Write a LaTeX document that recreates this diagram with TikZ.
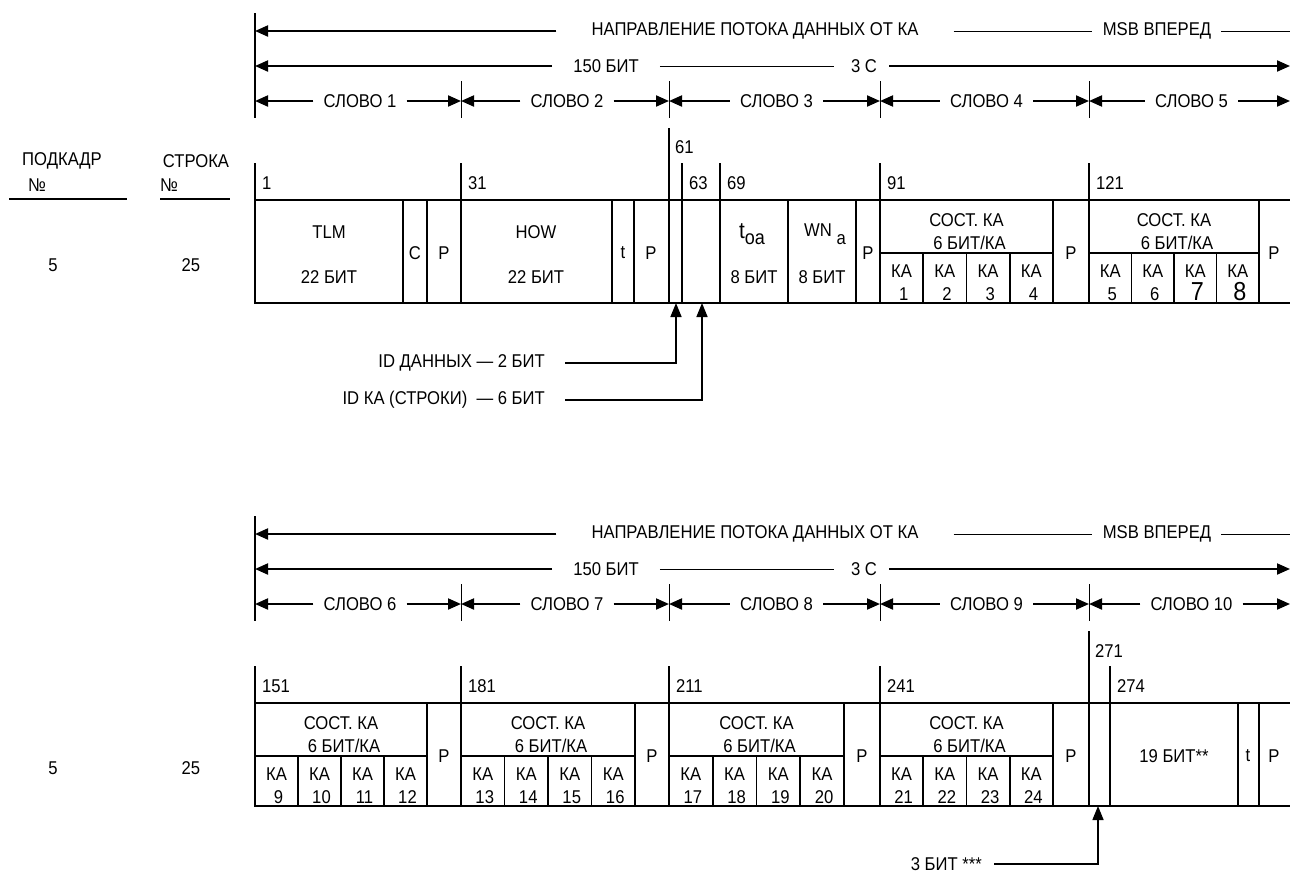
\documentclass[tikz,border=0pt]{standalone}
\usepackage{fontspec}
\setmainfont{Liberation Sans}[FakeStretch=0.9]
\usetikzlibrary{arrows.meta,positioning,calc}

\begin{document}
\begin{tikzpicture}[x=1pt, y=-1pt,
    every node/.style={font=\fontsize{18.5}{20}\selectfont, inner sep=0pt},
    thickarr/.style={line width=2pt, -{Triangle[length=13pt,width=11pt]}},
    elbow/.style={line width=1.6pt, -{Triangle[length=14pt,width=11pt]}},
    thinline/.style={line width=1pt},
    cellline/.style={line width=1.6pt},
    wordtick/.style={line width=1pt}]
    \useasboundingbox (0,0) rectangle (1290,873);

    % column heads
    \node (subf) at (62,161) {ПОДКАДР};
    \node (subfno) at (37,185) {№};
    \node (row) at (196,161) {СТРОКА};
    \node (rowno) at (169,185) {№};
    \draw[line width=1.3pt] (9,199) -- (127,199);
    \draw[line width=1.3pt] (160,199) -- (230,199);

    % both halves: direction, 150 bit, words
    \foreach \oy/\k in {0/0, 503/5} {
        \pgfmathtruncatemacro{\h}{\k+1}
        \draw[line width=2pt] (255,\oy+13) -- (255,\oy+118);
        \coordinate (dl\h) at (255,\oy+31);
        \coordinate (bl\h) at (255,\oy+66);
        \coordinate (dr\h) at (1290,\oy+31);
        \coordinate (br\h) at (1290,\oy+66);
        \node (dir\h) at (755,\oy+31) {НАПРАВЛЕНИЕ ПОТОКА ДАННЫХ ОТ КА};
        \node (msb\h) at (1157,\oy+31) {MSB ВПЕРЕД};
        \node (bits\h) at (606,\oy+66) {150 БИТ};
        \node (sec\h) at (864,\oy+66) {3 С};
        \draw[thickarr] ([xshift=-35]dir\h.west) -- (dl\h);
        \draw[thinline] ([xshift=35]dir\h.east) -- ([xshift=-11]msb\h.west);
        \draw[thinline] ([xshift=10]msb\h.east) -- (dr\h);
        \draw[thickarr] ([xshift=-21]bits\h.west) -- (bl\h);
        \draw[thinline] ([xshift=21]bits\h.east) -- ([xshift=-17]sec\h.west);
        \draw[thickarr] ([xshift=12]sec\h.east) -- (br\h);
        \foreach \a/\b [count=\j] in {255/461, 461/669, 669/880, 880/1089, 1089/1290} {
            \pgfmathtruncatemacro{\n}{\j+\k}
            \coordinate (wl\n) at (\a,\oy+101);
            \coordinate (wr\n) at (\b,\oy+101);
            \node (w\n) at ({(\a+\b)/2+2},\oy+101) {СЛОВО \n};
            \draw[thickarr] ([xshift=-10]w\n.west) -- (wl\n);
            \draw[thickarr] ([xshift=10]w\n.east) -- (wr\n);
            \ifnum\j>1 \draw[wordtick] (\a,\oy+81) -- (\a,\oy+118); \fi
        }
        \node (sf\h) at (53,\oy+265) {5};
        \node (ln\h) at (191,\oy+265) {25};
    }

    % words 1-5
    \draw[cellline] (255,163) -- (255,303) -- (1290,303);
    \draw[cellline] (255,200) -- (1290,200);
    \draw[cellline] (669,128) -- (669,303);
    \foreach \x in {403,427,612,634,788,856,1053,1259}
        \draw[cellline] (\x,200) -- (\x,303);
    \foreach \x/\t in {255/1, 461/31, 682/63, 720/69, 880/91, 1089/121} {
        \draw[cellline] (\x,163) -- (\x,303);
        \node[anchor=west] (s\t) at (\x+7,183) {\t};
    }
    \node[anchor=west] (s61) at (675,147) {61};
    \node (tlm) at (329,232) {TLM};
    \node (tlmb) at (329,277) {22 БИТ};
    \node (c1) at (415,253) {C};
    \node (p1) at (444,253) {P};
    \node (how) at (536,232) {HOW};
    \node (howb) at (536,277) {22 БИТ};
    \node (t1) at (623,253) {t};
    \node (p2) at (651,253) {P};
    \node[anchor=base] (toa) at (752,238) {{\fontsize{23}{23}\selectfont t}\raisebox{-6pt}{\fontsize{20}{20}\selectfont oa}};
    \node (toab) at (754,277) {8 БИТ};
    \node[anchor=base] (wna) at (825,236) {WN \raisebox{-8pt}{a}};
    \node (wnab) at (822,277) {8 БИТ};
    \node (p3) at (868,253) {P};
    \node (p4) at (1071,253) {P};
    \node (p5) at (1274,253) {P};

    % words 6-10
    \draw[cellline] (255,666) -- (255,806) -- (1290,806);
    \draw[cellline] (255,703) -- (1290,703);
    \draw[cellline] (1089,631) -- (1089,806);
    \foreach \x in {427,635,844,1053,1238,1259}
        \draw[cellline] (\x,703) -- (\x,806);
    \foreach \x/\t in {255/151, 461/181, 669/211, 880/241, 1110/274} {
        \draw[cellline] (\x,666) -- (\x,806);
        \node[anchor=west] (s\t) at (\x+7,686) {\t};
    }
    \node[anchor=west] (s271) at (1095,651) {271};
    \node (p6) at (444,756) {P};
    \node (p7) at (652,756) {P};
    \node (p8) at (862,756) {P};
    \node (p9) at (1071,756) {P};
    \node (rest) at (1174,756) {19 БИТ**};
    \node (t2) at (1248,756) {t};
    \node (p10) at (1274,756) {P};

    % satellite health groups
    \foreach \ga/\gb/\k/\oy in {880/1053/1/0, 1089/1259/5/0, 255/427/9/503,
                               461/635/13/503, 669/844/17/503, 880/1053/21/503} {
        \pgfmathsetmacro{\gw}{(\gb-\ga)/4}
        \draw[cellline] (\ga,\oy+253) -- (\gb,\oy+253);
        \node (st\k) at ({(\ga+\gb)/2},\oy+220) {СОСТ. КА};
        \node (stb\k) at ({(\ga+\gb)/2+3},\oy+243) {6 БИТ/КА};
        \foreach \q in {0,...,3} {
            \pgfmathtruncatemacro{\num}{\k+\q}
            \pgfmathsetmacro{\fs}{ifthenelse(or(\num==7,\num==8),26,18.5)}
            \ifnum\q>0 \draw[cellline] (\ga+\q*\gw,\oy+253) -- (\ga+\q*\gw,\oy+303); \fi
            \node (ka\num) at (\ga+\q*\gw+\gw/2,\oy+271) {КА};
            \node[anchor=base, font=\fontsize{\fs}{\fs}\selectfont] (nr\num)
                at (\ga+\q*\gw+\gw/2+2,\oy+300) {\num};
        }
    }

    % pointers to short fields
    \node[anchor=east] (iddata) at (545,363) {ID ДАННЫХ — 2 БИТ};
    \node[anchor=east] (idsat) at (545,400) {ID КА (СТРОКИ)\ \ — 6 БИТ};
    \coordinate (f61) at (676,303);
    \coordinate (f63) at (702,303);
    \draw[elbow] ([xshift=20]iddata.east) -| (f61);
    \draw[elbow] ([xshift=20]idsat.east) -| (f63);
    \node[anchor=east] (b271) at (982,864) {3 БИТ ***};
    \coordinate (f271) at (1098,806);
    \draw[elbow] ([xshift=12]b271.east) -| (f271);
\end{tikzpicture}
\end{document}
